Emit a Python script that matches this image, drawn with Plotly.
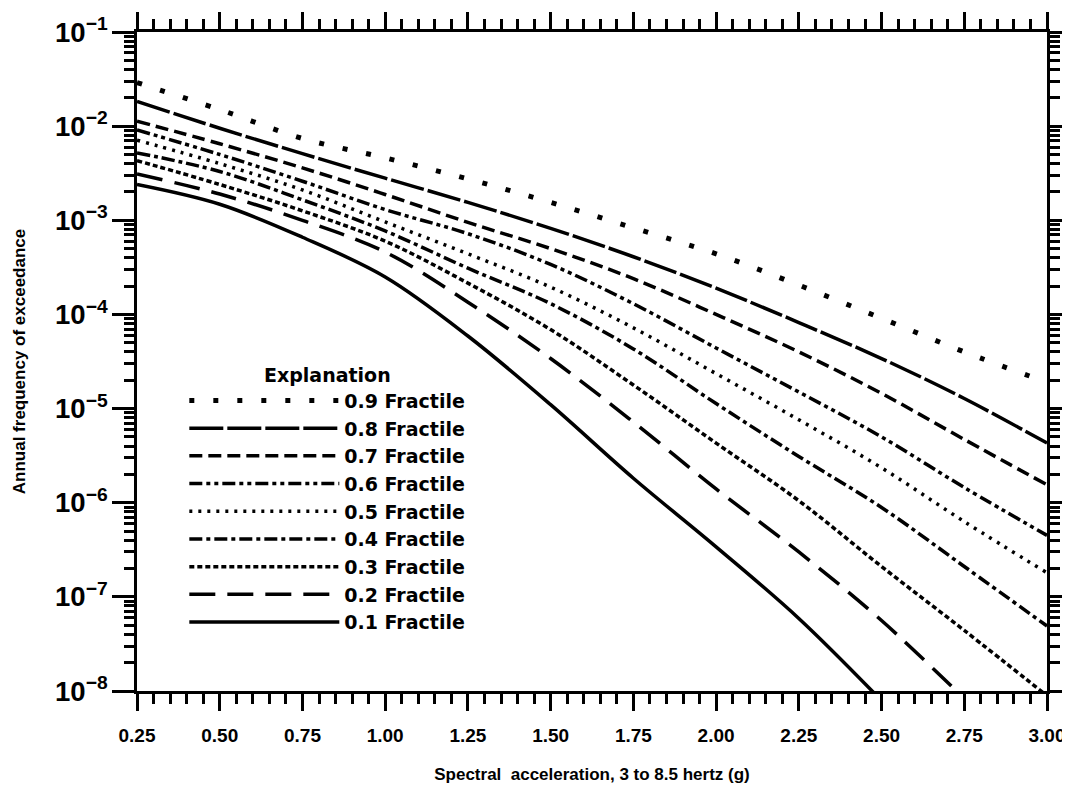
import plotly.graph_objects as go

x = [0.25, 0.5, 0.75, 1.0, 1.25, 1.5, 1.75, 2.0, 2.25, 2.5, 2.75, 3.0]

f09 = [2.9e-2, 1.5e-2, 7.4e-3, 4.6e-3, 2.75e-3, 1.55e-3, 8.3e-4, 4.4e-4, 2.05e-4, 9.1e-5, 4.0e-5, 1.9e-5]
f08 = [1.83e-2, 9.5e-3, 5.1e-3, 2.8e-3, 1.55e-3, 8.2e-4, 4.1e-4, 1.9e-4, 8.2e-5, 3.4e-5, 1.28e-5, 4.3e-6]
f07 = [1.13e-2, 6.5e-3, 3.6e-3, 1.88e-3, 9.5e-4, 5.0e-4, 2.4e-4, 1.0e-4, 4.0e-5, 1.45e-5, 4.7e-6, 1.55e-6]
f06 = [9.1e-3, 5.0e-3, 2.6e-3, 1.3e-3, 7.2e-4, 3.4e-4, 1.3e-4, 4.4e-5, 1.5e-5, 5.0e-6, 1.45e-6, 4.5e-7]
f05 = [7.1e-3, 4.0e-3, 2.1e-3, 9.6e-4, 4.4e-4, 1.95e-4, 7.2e-5, 2.35e-5, 7.6e-6, 2.35e-6, 6.3e-7, 1.8e-7]
f04 = [5.2e-3, 3.3e-3, 1.65e-3, 7.7e-4, 3.1e-4, 1.3e-4, 4.3e-5, 1.13e-5, 3.1e-6, 8.9e-7, 2.1e-7, 4.9e-8]
f03 = [4.3e-3, 2.4e-3, 1.26e-3, 6.0e-4, 2.15e-4, 6.9e-5, 1.78e-5, 4.3e-6, 1.05e-6, 2.1e-7, 4.4e-8, 8.9e-9]
f02 = [3.1e-3, 1.9e-3, 1.0e-3, 4.6e-4, 1.35e-4, 3.4e-5, 7.2e-6, 1.4e-6, 3.0e-7, 5.6e-8, 8.3e-9]
f01 = [2.4e-3, 1.48e-3, 6.6e-4, 2.5e-4, 5.9e-5, 1.1e-5, 1.82e-6, 3.4e-7, 5.9e-8, 7.9e-9]

names = ["0.9 Fractile", "0.8 Fractile", "0.7 Fractile", "0.6 Fractile", "0.5 Fractile",
         "0.4 Fractile", "0.3 Fractile", "0.2 Fractile", "0.1 Fractile"]
series = [f09, f08, f07, f06, f05, f04, f03, f02, f01]
dashes = ["5px,19px", "34px,4px", "13px,6px", "13px,4px,4px,4px,4px,4px", "3px,6px",
          "13px,4px,4px,4px", "5px,3px", "26px,12px", "solid"]
widths = [5, 3.5, 3.5, 3.5, 3.5, 3.5, 3.5, 3.5, 3.5]

FONT2 = "Liberation Sans, Arial, Helvetica, sans-serif"
FONT3 = "DejaVu Sans, Verdana, sans-serif"

fig = go.Figure()
for i, (nm, ys) in enumerate(zip(names, series)):
    fig.add_trace(go.Scatter(
        x=x[:len(ys)], y=ys, mode="lines", name=nm,
        legendgroup=nm,
        line=dict(color="black", width=widths[i], dash=dashes[i], shape="spline", smoothing=1.0),
        hoverinfo="skip",
    ))

fig.update_layout(
    width=1070, height=794,
    margin=dict(l=129, r=31, t=24, b=111),
    paper_bgcolor="white", plot_bgcolor="white",
    showlegend=True,
    legend=dict(
        x=0.052, y=0.507, xanchor="left", yanchor="top",
        bgcolor="rgba(0,0,0,0)",
        font=dict(family=FONT3, size=19, color="black", weight="bold"),
        title=dict(text="Explanation", side="top center",
                   font=dict(family=FONT3, size=19, color="black", weight="bold")),
        itemwidth=150,
        tracegroupgap=0,
        traceorder="normal",
    ),
    font=dict(family=FONT2, color="black"),
)

fig.update_xaxes(
    range=[0.25, 3.0], automargin=False,
    tickmode="linear", tick0=0.25, dtick=0.25, tickformat=".2f",
    ticks="outside", ticklen=17, tickwidth=3, tickcolor="black",
    ticklabelstandoff=8,
    minor=dict(dtick=0.05, ticks="outside", ticklen=10, tickwidth=3, tickcolor="black"),
    showline=True, linecolor="black", linewidth=3, mirror="allticks",
    showgrid=False, zeroline=False,
    tickfont=dict(family=FONT2, size=19, color="black", weight="bold"),
    title=dict(text="Spectral  acceleration, 3 to 8.5 hertz (g)", standoff=24,
               font=dict(family=FONT2, size=17, color="black", weight="bold")),
)

fig.update_yaxes(
    type="log", range=[-8, -1], dtick=1, exponentformat="power", automargin=False,
    ticks="outside", ticklen=22, tickwidth=3, tickcolor="black",
    minor=dict(dtick="D1", ticks="outside", ticklen=10, tickwidth=2.5, tickcolor="black"),
    showline=True, linecolor="black", linewidth=3, mirror="allticks",
    showgrid=False, zeroline=False,
    tickfont=dict(family=FONT2, size=22, color="black", weight="bold"),
    title=dict(text="Annual frequency of exceedance", standoff=26,
               font=dict(family=FONT2, size=17, color="black", weight="bold")),
)

fig.write_html("out.html")
